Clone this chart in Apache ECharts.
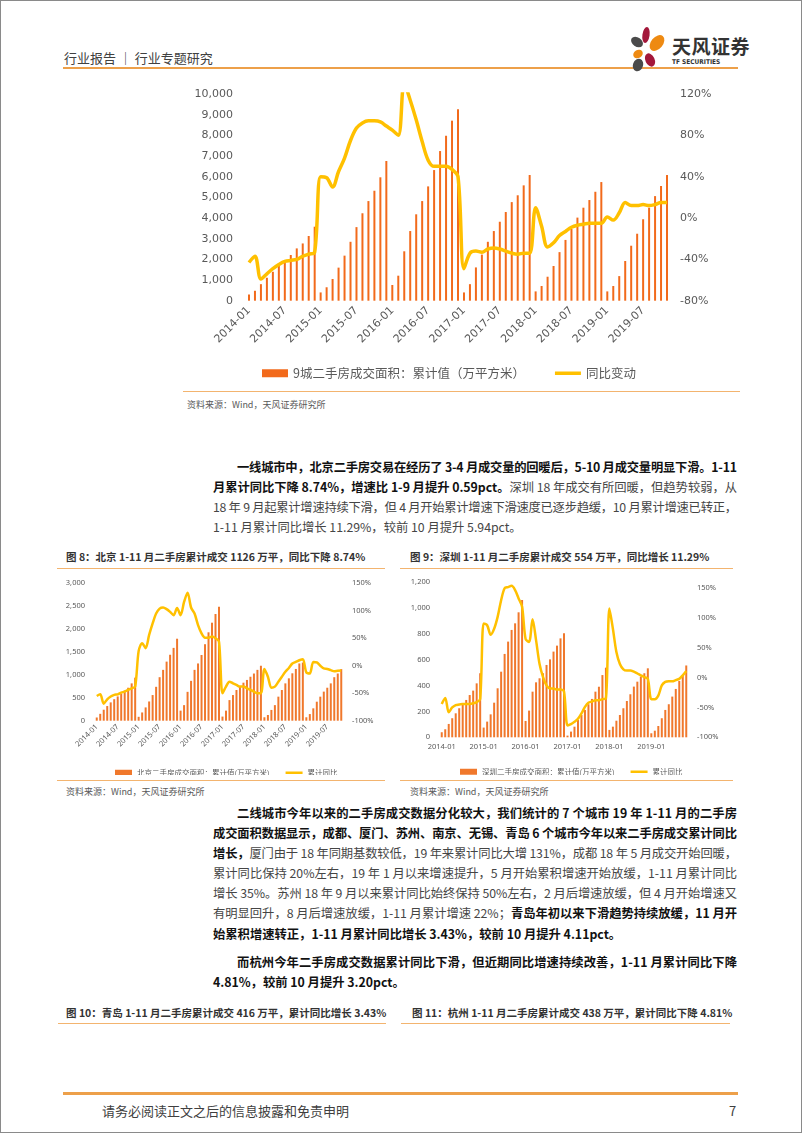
<!DOCTYPE html>
<html><head><meta charset="utf-8">
<script src="https://cdn.jsdelivr.net/npm/echarts@6/dist/echarts.min.js"></script>
<style>
html,body{margin:0;padding:0;background:#fff;}
body{width:802px;height:1133px;position:relative;overflow:hidden;font-family:'Noto Sans CJK SC','Noto Sans',sans-serif;}
.abs{position:absolute;}
.frame{left:0;top:0;width:802px;height:1133px;box-sizing:border-box;border:1.5px solid #8a8a8a;}
.hl{position:absolute;background:#EDA04A;}
.tl{position:absolute;background:#F3B46F;height:1.3px;}
.ln{position:absolute;height:20px;line-height:20px;font-size:12.3px;color:#454545;white-space:nowrap;}
.ln b{color:#111;font-weight:700;}
.src{position:absolute;font-size:9px;color:#595959;}
.ft{position:absolute;font-size:10.5px;font-weight:700;color:#333;white-space:nowrap;}
</style></head><body>
<div class="abs frame"></div>

<!-- header -->
<div class="abs" style="left:64px;top:48px;font-size:13px;color:#404040;white-space:nowrap;">行业报告 ｜ 行业专题研究</div>
<div class="hl" style="left:63px;top:67px;width:675px;height:2px;"></div>
<svg class="abs" style="left:628px;top:26px" width="40" height="46" viewBox="0 0 40 46">
  <ellipse cx="18" cy="9" rx="3.6" ry="8" fill="#A3173A" transform="rotate(8 18 9)"/>
  <ellipse cx="29" cy="17" rx="6" ry="9" fill="#EE8A12" transform="rotate(40 29 17)"/>
  <ellipse cx="9" cy="16" rx="4.6" ry="6.5" fill="#4A4A4A" transform="rotate(-55 9 16)"/>
  <ellipse cx="10" cy="28" rx="4" ry="5" fill="#EE8A12" transform="rotate(60 10 28)"/>
  <ellipse cx="22" cy="34" rx="4.6" ry="7" fill="#A3173A" transform="rotate(-25 22 34)"/>
  <ellipse cx="10" cy="39" rx="5" ry="6.5" fill="#4A4A4A" transform="rotate(20 10 39)"/>
</svg>
<div class="abs" style="left:672px;top:32px;font-size:19px;font-weight:700;color:#333;white-space:nowrap;letter-spacing:0.5px;">天风证券</div>
<div class="abs" style="left:672px;top:58px;font-size:6.5px;font-weight:700;color:#333;white-space:nowrap;font-family:'DejaVu Sans Condensed','DejaVu Sans',sans-serif;">TF SECURITIES</div>

<div id="main" class="abs" style="left:180px;top:80px;width:560px;height:310px;"></div>
<div class="tl" style="left:183px;top:391px;width:557px;"></div>
<div class="src" style="left:187px;top:398px;">资料来源：Wind，天风证券研究所</div>

<!-- paragraph 1 -->
<div class="ln j" data-w="500" style="left:237px;top:457px;"><span><b>一线城市中，北京二手房交易在经历了 3-4 月成交量的回暖后，5-10 月成交量明显下滑。1-11</b></span></div>
<div class="ln j" data-w="524" style="left:213px;top:477px;"><span><b>月累计同比下降 8.74%，增速比 1-9 月提升 0.59pct。</b>深圳 18 年成交有所回暖，但趋势较弱，从</span></div>
<div class="ln j" data-w="524" style="left:213px;top:497px;"><span>18 年 9 月起累计增速持续下滑，但 4 月开始累计增速下滑速度已逐步趋缓，10 月累计增速已转正，</span></div>
<div class="ln" style="left:213px;top:517px;"><span>1-11 月累计同比增长 11.29%，较前 10 月提升 5.94pct。</span></div>

<!-- figure titles 8/9 -->
<div class="ft" style="left:66px;top:549px;">图 8：北京 1-11 月二手房累计成交 1126 万平，同比下降 8.74%</div>
<div class="ft" style="left:410px;top:549px;">图 9：深圳 1-11 月二手房累计成交 554 万平，同比增长 11.29%</div>
<div class="tl" style="left:57px;top:568px;width:328px;"></div>
<div class="tl" style="left:400px;top:568px;width:333px;"></div>

<div id="bj" class="abs" style="left:40px;top:570px;width:340px;height:205px;"></div>
<div id="sz" class="abs" style="left:395px;top:570px;width:330px;height:205px;"></div>

<div class="tl" style="left:57px;top:780px;width:328px;"></div>
<div class="tl" style="left:400px;top:780px;width:333px;"></div>
<div class="src" style="left:66px;top:785px;">资料来源：Wind，天风证券研究所</div>
<div class="src" style="left:410px;top:785px;">资料来源：Wind，天风证券研究所</div>

<!-- paragraph 2 -->
<div class="ln j" data-w="500" style="left:237px;top:803px;"><span><b>二线城市今年以来的二手房成交数据分化较大，我们统计的 7 个城市 19 年 1-11 月的二手房</b></span></div>
<div class="ln j" data-w="524" style="left:213px;top:823px;"><span><b>成交面积数据显示，成都、厦门、苏州、南京、无锡、青岛 6 个城市今年以来二手房成交累计同比</b></span></div>
<div class="ln j" data-w="524" style="left:213px;top:843px;"><span><b>增长，</b>厦门由于 18 年同期基数较低，19 年来累计同比大增 131%，成都 18 年 5 月成交开始回暖，</span></div>
<div class="ln j" data-w="524" style="left:213px;top:863px;"><span>累计同比保持 20%左右，19 年 1 月以来增速提升，5 月开始累积增速开始放缓，1-11 月累计同比</span></div>
<div class="ln j" data-w="524" style="left:213px;top:883px;"><span>增长 35%。苏州 18 年 9 月以来累计同比始终保持 50%左右，2 月后增速放缓，但 4 月开始增速又</span></div>
<div class="ln j" data-w="524" style="left:213px;top:903px;"><span>有明显回升，8 月后增速放缓，1-11 月累计增速 22%；<b>青岛年初以来下滑趋势持续放缓，11 月开</b></span></div>
<div class="ln" style="left:213px;top:924px;"><span><b>始累积增速转正，1-11 月累计同比增长 3.43%，较前 10 月提升 4.11pct。</b></span></div>

<div class="ln j" data-w="500" style="left:237px;top:952px;"><span><b>而杭州今年二手房成交数据累计同比下滑，但近期同比增速持续改善，1-11 月累计同比下降</b></span></div>
<div class="ln" style="left:213px;top:972px;"><span><b>4.81%，较前 10 月提升 3.20pct。</b></span></div>

<div class="ft" style="left:66px;top:1005px;">图 10：青岛 1-11 月二手房累计成交 416 万平，累计同比增长 3.43%</div>
<div class="ft" style="left:412px;top:1005px;">图 11：杭州 1-11 月二手房累计成交 438 万平，累计同比下降 4.81%</div>
<div class="tl" style="left:58px;top:1023px;width:328px;"></div>
<div class="tl" style="left:401px;top:1023px;width:329px;"></div>

<div class="hl" style="left:63px;top:1092px;width:675px;height:2.5px;"></div>
<div class="abs" style="left:102px;top:1101px;font-size:13px;color:#404040;white-space:nowrap;">请务必阅读正文之后的信息披露和免责申明</div>
<div class="abs" style="left:729px;top:1101px;font-size:13px;color:#404040;">7</div>

<script>
// justify each paragraph line to its target width with letter-spacing
document.querySelectorAll('.ln.j').forEach(function(el){
  const span = el.querySelector('span');
  const W = parseFloat(el.getAttribute('data-w'));
  const w = span.getBoundingClientRect().width;
  const n = span.textContent.length;
  el.style.letterSpacing = ((W - w) / (n - 1)) + 'px';
});

// ===== data =====
const months = [
'2014-01','2014-02','2014-03','2014-04','2014-05','2014-06','2014-07','2014-08','2014-09','2014-10','2014-11','2014-12',
'2015-01','2015-02','2015-03','2015-04','2015-05','2015-06','2015-07','2015-08','2015-09','2015-10','2015-11','2015-12',
'2016-01','2016-02','2016-03','2016-04','2016-05','2016-06','2016-07','2016-08','2016-09','2016-10','2016-11','2016-12',
'2017-01','2017-02','2017-03','2017-04','2017-05','2017-06','2017-07','2017-08','2017-09','2017-10','2017-11','2017-12',
'2018-01','2018-02','2018-03','2018-04','2018-05','2018-06','2018-07','2018-08','2018-09','2018-10','2018-11','2018-12',
'2019-01','2019-02','2019-03','2019-04','2019-05','2019-06','2019-07','2019-08','2019-09','2019-10','2019-11'];

// 9 cities cumulative area (万平方米) and YoY change (%)
const nineCityArea = [
300,480,800,1110,1400,1680,1890,2210,2530,2770,3130,3580,
400,650,1050,1600,2180,2850,3560,4230,4820,5320,5970,6760,
760,1210,2390,3370,4180,4820,5530,6320,7240,7980,8710,9260,
400,800,1610,2230,2850,3370,3820,4290,4770,5100,5580,6080,
450,710,1160,1680,2350,2940,3470,4020,4500,4870,5270,5740,
450,710,1190,1920,2660,3240,3940,4500,5060,5550,6080];
const nineCityYoY = [
-43,-37,-59,-54,-49,-45,-42,-41,-40,-37,-35,-33,
40,39,30,45,58,75,87,92,94,94,93,89,
85,80,130,114,95,74,56,50,50,50,47,40,
-49,-34,-32,-33,-30,-29,-30,-32,-34,-35,-34,-34,
10,-8,-28,-24,-17,-13,-9,-7,-6,-5,-5,-5,
1,-2,5,15,12,12,13,12,13,15,15];

// Beijing
const bjArea = [
70,150,240,320,400,470,530,590,660,720,815,940,
85,180,290,420,560,740,950,1110,1290,1440,1590,1790,
220,340,630,870,1110,1250,1435,1670,1930,2140,2330,2490,
90,220,450,560,670,740,830,890,960,1030,1110,1200,
75,125,235,340,525,670,815,925,1035,1130,1250,1270,
75,145,270,415,525,635,720,815,950,1030,1126];
const bjYoY = [
-55,-52,-69,-61,-56,-53,-52,-49,-47,-44,-41,-38,
27,41,32,56,77,95,104,106,103,98,92,105,
92,116,133,106,95,74,59,51,51,53,50,44,
-50,-38,-29,-32,-35,-38,-38,-41,-44,-47,-50,-50,
-6,-20,-40,-38,-29,-20,-11,-4,4,7,10,12,
-12,-14,7,6,0,-5,-6,-8,-10,-9,-8.74];

// Shenzhen
const szArea = [
39,62,103,147,185,224,255,288,326,360,416,494,
75,121,177,267,378,506,643,738,828,879,964,1059,
126,206,352,424,455,494,558,601,661,707,763,802,
13,44,82,134,172,211,255,296,352,390,480,537,
57,82,128,172,224,280,332,391,429,468,494,532,
31,51,87,147,211,255,314,373,434,481,554];
const szYoY = [
-44,-34,-58,-50,-46,-45,-44,-44,-44,-43,-41,-36,
91,88,72,82,102,130,150,152,154,147,133,119,
65,60,98,63,23,1,-13,-18,-18,-20,-20,-23,
-80,-78,-74,-69,-60,-49,-42,-40,-38,-38,-36,-35,
116,82,43,23,14,12,12,10,7,4,1,-2,
-36,-36,-30,-13,-7,-6,-6,-4,-2,4,11.29];

const leftTicks9 = {min:0,max:10000,interval:1000};
const rightTicks9 = {min:-80,max:120,interval:40};

// ===== charts =====
const FF = "'Noto Sans CJK SC','Noto Sans',sans-serif";
const NUMF = "'DejaVu Sans',sans-serif";
const AX = '#595959';
const BAR = '#F26A1B';
const LINE = '#FFC000';
const LINE_ICON = 'path://M0,0L26,0L26,3.5L0,3.5Z';

const mainName = '9城二手房成交面积：累计值（万平方米）';
const c1 = echarts.init(document.getElementById('main'), null, {renderer:'canvas'});
c1.setOption({
  animation:false,
  grid:{left:66,right:70,top:14,height:206.7},
  legend:{top:282,left:77,itemGap:30,itemWidth:26,itemHeight:8,
    textStyle:{fontSize:12.5,color:AX,fontFamily:FF},
    data:[{name:mainName,icon:'rect'},{name:'同比变动',icon:LINE_ICON}]},
  xAxis:{type:'category',data:months,axisLine:{show:false},axisTick:{show:false},
    axisLabel:{interval:5,rotate:45,fontSize:11,color:AX,fontFamily:NUMF,margin:8}},
  yAxis:[
    {type:'value',min:leftTicks9.min,max:leftTicks9.max,interval:leftTicks9.interval,splitLine:{show:false},
     axisLine:{show:false},axisTick:{show:false},
     axisLabel:{fontSize:11,color:AX,fontFamily:NUMF,margin:13}},
    {type:'value',min:rightTicks9.min,max:rightTicks9.max,interval:rightTicks9.interval,splitLine:{show:false},
     axisLine:{show:false},axisTick:{show:false},
     axisLabel:{fontSize:11,color:AX,fontFamily:NUMF,margin:10,formatter:'{value}%'}}
  ],
  series:[
    {name:mainName,type:'bar',barWidth:2,itemStyle:{color:BAR},data:nineCityArea},
    {name:'同比变动',type:'line',yAxisIndex:1,smooth:0.35,symbol:'none',clip:true,
     lineStyle:{width:3.5,color:LINE},itemStyle:{color:LINE},data:nineCityYoY}
  ]
});

function smallChart(id, grid, leftAx, rightAx, xLab, area, yoy, barName, legLeft, legTop){
  const c = echarts.init(document.getElementById(id));
  const showMax = rightAx.showMax !== false;
  delete rightAx.showMax;
  c.setOption({
    animation:false,
    grid:grid,
    legend:{top:legTop,left:legLeft,itemGap:16,itemWidth:17,itemHeight:6,
      textStyle:{fontSize:7.5,color:AX,fontFamily:FF},
      data:[{name:barName,icon:'rect'},{name:'累计同比',icon:'path://M0,0L17,0L17,2.5L0,2.5Z'}]},
    xAxis:{type:'category',data:months,axisLine:{show:false},axisTick:{show:false},axisLabel:xLab},
    yAxis:[
      Object.assign({type:'value',splitLine:{show:false},axisLine:{show:false},axisTick:{show:false},
        axisLabel:{fontSize:7.5,color:AX,fontFamily:"'Noto Sans',sans-serif",margin:10}},leftAx),
      Object.assign({type:'value',splitLine:{show:false},axisLine:{show:false},axisTick:{show:false},
        axisLabel:{fontSize:7.5,color:AX,fontFamily:"'Noto Sans',sans-serif",margin:9,formatter:'{value}%',showMaxLabel:showMax}},rightAx)
    ],
    series:[
      {name:barName,type:'bar',barWidth:2,itemStyle:{color:'#F0782C'},data:area},
      {name:'累计同比',type:'line',yAxisIndex:1,smooth:0.3,symbol:'none',
       lineStyle:{width:2.5,color:LINE},itemStyle:{color:LINE},data:yoy}
    ]
  });
}

smallChart('bj',{left:55,right:37,top:13.3,height:137.4},
  {min:0,max:3000,interval:500},{min:-100,max:150,interval:50},
  {interval:5,rotate:45,fontSize:7.5,color:AX,fontFamily:"'Noto Sans',sans-serif",margin:5},
  bjArea,bjYoY,'北京二手房成交面积：累计值(万平方米)',70,194);

smallChart('sz',{left:45,right:37,top:11.7,height:155.6},
  {min:0,max:1200,interval:200},{min:-100,max:161,interval:50,showMax:false},
  {interval:11,rotate:0,fontSize:7.5,color:AX,fontFamily:"'Noto Sans',sans-serif",margin:6},
  szArea,szYoY,'深圳二手房成交面积：累计值(万平方米)',60,193);
</script>
</body></html>
